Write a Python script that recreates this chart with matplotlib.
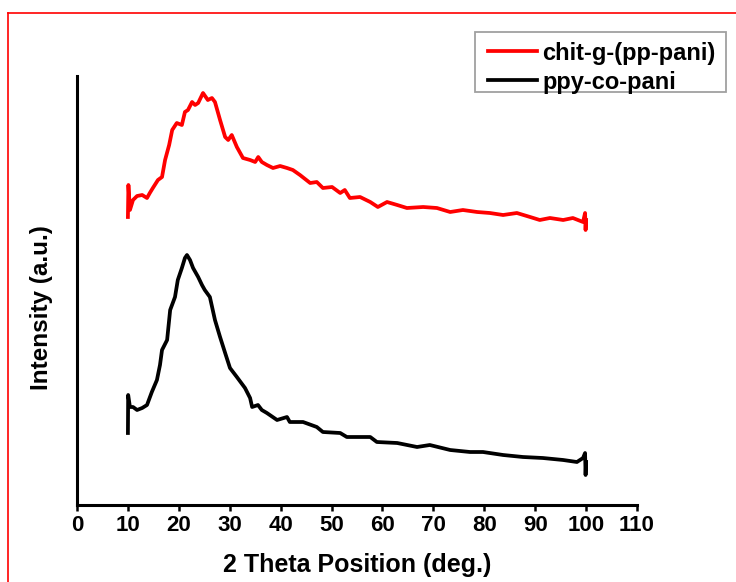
import matplotlib
matplotlib.use("Agg")
import matplotlib.pyplot as plt
from matplotlib.lines import Line2D
from matplotlib.patches import Rectangle

# ---- data (intensity in arbitrary units) ----
red_x = [10.0, 10.1, 10.4, 11.0, 11.8, 12.8, 13.75, 14.3, 14.9, 15.9, 16.7, 17.3, 18.1, 18.7,
         19.6, 20.6, 21.2, 21.8, 22.6, 23.2, 23.8, 24.75, 25.7, 26.5, 27.1, 28.1, 29.1, 29.7,
         30.4, 31.4, 32.6, 34.0, 35.0, 35.6, 36.3, 37.3, 38.5, 39.9, 41.25, 42.4, 43.8, 45.8,
         47.1, 48.3, 50.1, 51.7, 52.6, 53.6, 55.6, 57.6, 59.1, 60.9, 62.9, 64.8, 68.0, 70.7,
         73.3, 75.8, 78.6, 81.1, 83.7, 86.4, 89.0, 90.9, 92.9, 95.5, 97.4, 99.4, 99.8, 99.9, 100.0]
red_y = [288, 320, 295, 305, 309, 310, 307, 312, 317, 325, 328, 345, 360, 375,
         382, 380, 393, 395, 403, 400, 402, 412, 405, 407, 403, 385, 368, 365,
         370, 358, 347, 345, 343, 348, 343, 340, 337, 339, 337, 335, 330, 322,
         323, 317, 318, 312, 315, 307, 308, 303, 298, 303, 300, 297, 298, 297,
         293, 295, 293, 292, 290, 292, 288, 285, 287, 285, 287, 283, 292, 275, 285]

black_x = [10.0, 10.05, 10.4, 11.0, 11.8, 12.8, 13.75, 14.7, 15.7, 16.3, 16.7, 17.7, 18.3, 19.25,
           19.8, 20.6, 21.2, 21.6, 22.2, 22.8, 23.8, 24.55, 25.1, 26.1, 27.1, 28.1, 29.1, 30.05,
           31.4, 33.0, 34.0, 34.4, 35.55, 36.3, 37.3, 39.3, 41.25, 41.8, 44.4, 47.1, 48.3, 51.7,
           53.0, 55.6, 57.6, 58.9, 62.9, 66.8, 69.3, 73.3, 77.2, 79.75, 83.7, 87.6, 91.5, 95.5,
           98.2, 99.4, 99.8, 99.9, 100.0]
black_y = [72, 110, 98, 98, 95, 97, 100, 113, 125, 140, 155, 165, 195, 208,
           225, 237, 247, 250, 245, 237, 228, 220, 215, 208, 185, 168, 152, 137,
           128, 117, 107, 98, 100, 95, 92, 85, 88, 83, 83, 78, 73, 72,
           68, 68, 68, 63, 62, 58, 60, 55, 53, 53, 50, 48, 47, 45,
           43, 47, 52, 30, 43]

labels = ["chit-g-(pp-pani)", "ppy-co-pani"]
colors = ["#ff0000", "black"]
xticks = [0, 10, 20, 30, 40, 50, 60, 70, 80, 90, 100, 110]

W, H = 736, 582
fig = plt.figure(figsize=(W / 100, H / 100), dpi=100)
font = ["Liberation Sans", "DejaVu Sans"]


def fx(px):
    return px / W


def fy(py):
    return 1 - py / H


ax = fig.add_axes([fx(77), fy(505), 560 / W, 429 / H])
ax.plot(red_x, red_y, color=colors[0], lw=2.7, solid_joinstyle="round")
ax.plot(black_x, black_y, color=colors[1], lw=2.7, solid_joinstyle="round")

ax.set_xlim(0, 110)
ax.set_ylim(0, 429)
ax.set_xticks(xticks)
ax.set_xticklabels([str(t) for t in xticks], fontfamily=font, fontweight="bold", fontsize=16)
ax.set_yticks([])
for s in ["top", "right"]:
    ax.spines[s].set_visible(False)
for s in ["left", "bottom"]:
    ax.spines[s].set_linewidth(2.2)
ax.tick_params(axis="x", direction="out", length=4, width=1.8, pad=3)

fig.text(fx(357), fy(565), "2 Theta Position (deg.)", ha="center", va="center",
         fontfamily=font, fontweight="bold", fontsize=18)
fig.text(fx(42), fy(308), "Intensity (a.u.)", ha="center", va="center", rotation=90,
         fontfamily=font, fontweight="bold", fontsize=17.5)

# legend (drawn as a boxed key)
fig.add_artist(Rectangle((fx(475), fy(92)), (726 - 475) / W, 60 / H, transform=fig.transFigure,
                         facecolor="white", edgecolor="#a0a0a0", lw=1.3))
for i, (lab, col) in enumerate(zip(labels, colors)):
    yy = fy(51 + 29 * i)
    fig.add_artist(Line2D([fx(488), fx(537)], [yy, yy], transform=fig.transFigure,
                          color=col, lw=2.7))
    fig.text(fx(542), yy, lab, ha="left", va="center_baseline", fontfamily=font,
             fontweight="bold", fontsize=17)

# red outer border
fig.add_artist(Line2D([fx(8), 1.0], [fy(13), fy(13)], transform=fig.transFigure,
                      color="red", lw=1.2))
fig.add_artist(Line2D([fx(8), fx(8)], [0, fy(13)], transform=fig.transFigure,
                      color="red", lw=1.2))

fig.savefig("out.png", dpi=100)
